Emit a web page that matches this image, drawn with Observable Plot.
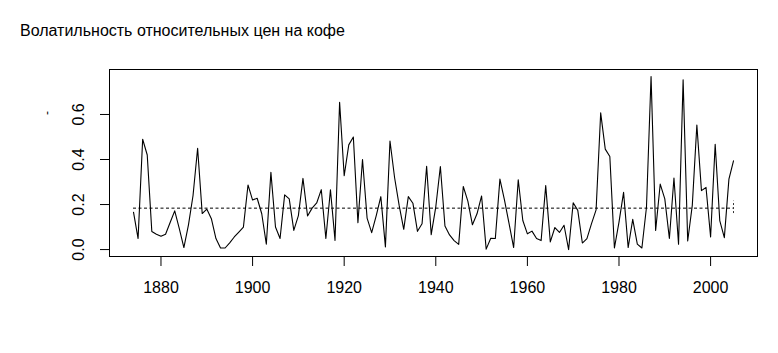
<!DOCTYPE html>
<html><head><meta charset="utf-8">
<script src="https://cdn.jsdelivr.net/npm/d3@7"></script>
<script src="https://cdn.jsdelivr.net/npm/@observablehq/plot@0.6"></script>
<style>
body{margin:0;background:#fff;font-family:"Liberation Sans",Arial,Helvetica,sans-serif;}
#wrap{position:relative;width:778px;height:353px;overflow:hidden;}
#title{height:45px;position:relative;}
#title span{position:absolute;left:20px;top:22px;font-size:16px;line-height:18px;color:#000;white-space:nowrap;}
#ylab{position:absolute;left:44px;top:105px;width:6px;height:16px;line-height:16px;text-align:center;font-size:12px;color:#000;transform:rotate(-90deg);}
</style></head><body>
<div id="wrap"><div id="title"><span>Волатильность относительных цен на кофе</span></div><div id="chart"></div><div id="ylab">-</div></div>
<script>
const startYear = 1874;
const volatility = [
  0.166, 0.049, 0.49, 0.42, 0.08, 0.068, 0.059, 0.068, 0.12, 0.172, 0.093, 0.009, 0.11, 0.24, 0.45, 0.16, 0.18, 0.137, 0.049, 0.007, 0.007, 0.03,
  0.056, 0.078, 0.10, 0.287, 0.22, 0.228, 0.159, 0.024, 0.343, 0.10, 0.049, 0.243, 0.225, 0.085, 0.151, 0.316, 0.149, 0.184, 0.207, 0.266, 0.049, 0.266,
  0.041, 0.654, 0.328, 0.465, 0.50, 0.119, 0.40, 0.14, 0.075, 0.151, 0.235, 0.012, 0.482, 0.32, 0.196, 0.09, 0.235, 0.206, 0.081, 0.115, 0.37, 0.066,
  0.19, 0.369, 0.105, 0.065, 0.04, 0.023, 0.28, 0.215, 0.11, 0.159, 0.238, 0.002, 0.05, 0.049, 0.313, 0.22, 0.115, 0.009, 0.31, 0.129, 0.07, 0.082,
  0.049, 0.04, 0.284, 0.034, 0.098, 0.076, 0.108, 0.0, 0.208, 0.174, 0.029, 0.049, 0.115, 0.176, 0.607, 0.446, 0.413, 0.007, 0.122, 0.254, 0.009, 0.134,
  0.024, 0.007, 0.188, 0.769, 0.085, 0.291, 0.225, 0.049, 0.318, 0.024, 0.754, 0.038, 0.196, 0.553, 0.262, 0.276, 0.056, 0.468, 0.129, 0.053, 0.313, 0.394
];
const meanLevel = 0.184;
const endMarkRange = [0.16, 0.215];
const xTicks = [1880, 1900, 1920, 1940, 1960, 1980, 2000];
const yTicks = [0, 0.2, 0.4, 0.6];
const yTickLabels = ["0.0", "0.2", "0.4", "0.6"];

const years = volatility.map((_, i) => startYear + i);
const series = years.map((year, i) => ({year, value: volatility[i]}));
const padded = ([a, b]) => { const r = b - a; return [a - 0.04 * r, b + 0.04 * r]; };
const xDomain = padded(d3.extent(years));
const yDomain = padded(d3.extent(volatility));
const firstYear = years[0], lastYear = years[years.length - 1];

const chart = Plot.plot({
  width: 778,
  height: 308,
  marginTop: 24,
  marginBottom: 97,
  marginLeft: 109,
  marginRight: 21,
  style: {fontFamily: '"Liberation Sans", Arial, Helvetica, sans-serif', fontSize: "16px", color: "#000", background: "#fff"},
  x: {domain: xDomain, axis: null},
  y: {domain: yDomain, axis: null},
  marks: [
    Plot.frame({stroke: "#000", strokeWidth: 1}),
    Plot.axisX(xTicks, {tickSize: 10, tickFormat: () => "", label: null, stroke: "#000"}),
    Plot.axisY(yTicks, {tickSize: 9, tickFormat: () => "", label: null, stroke: "#000"}),
    Plot.text(xTicks, {x: d => d, text: d => String(d), frameAnchor: "bottom", dy: 31, lineAnchor: "middle", fontSize: 16, fill: "#000"}),
    Plot.text(yTicks, {y: d => d, text: (d, i) => yTickLabels[i], frameAnchor: "left", dx: -31, rotate: -90, textAnchor: "middle", lineAnchor: "middle", fontSize: 16, fill: "#000"}),
    Plot.ruleY([meanLevel], {x1: firstYear, x2: lastYear, stroke: "#000", strokeWidth: 1, strokeDasharray: "3,2.5"}),
    Plot.ruleX([lastYear], {y1: endMarkRange[0], y2: endMarkRange[1], stroke: "#000", strokeWidth: 0.8, strokeDasharray: "2,2"}),
    Plot.line(series, {x: "year", y: "value", stroke: "#000", strokeWidth: 1.1})
  ]
});
document.getElementById("chart").appendChild(chart);
</script>
</body></html>
